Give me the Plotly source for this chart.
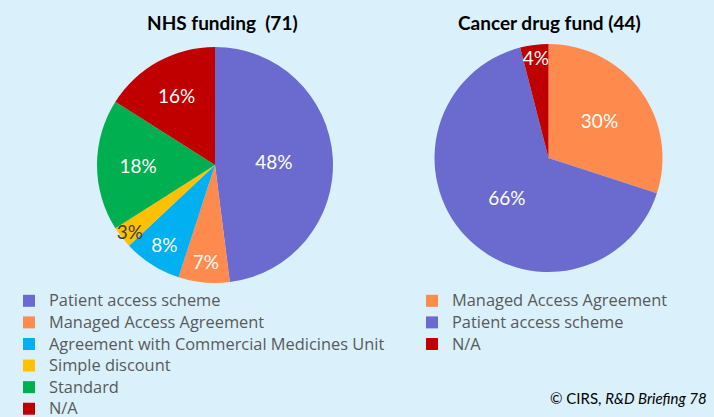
import plotly.graph_objects as go

nhs_labels = ["Patient access scheme", "Managed Access Agreement",
              "Agreement with Commercial Medicines Unit", "Simple discount",
              "Standard", "N/A"]
nhs_values = [48, 7, 8, 3, 18, 16]
nhs_colors = ["#6B6BCF", "#FF8A4D", "#00B0F0", "#FFC000", "#00B050", "#C00000"]
nhs_text_colors = ["white", "white", "white", "#404040", "white", "white"]

cdf_labels = ["Managed Access Agreement", "Patient access scheme", "N/A"]
cdf_values = [30, 66, 4]
cdf_colors = ["#FF8A4D", "#6B6BCF", "#C00000"]
cdf_text_colors = ["white", "white", "white"]

titles = ["NHS funding  (71)", "Cancer drug fund (44)"]
source = "© CIRS, <i>R&D Briefing 78</i>"

W, H = 714, 417
FONT = "Lato"
LFONT = "Open Sans"

# legend text drawn a bit larger than the legend row height implies
left_disp = ['<span style="font-size:16.4px">%s</span>' % l for l in nhs_labels]
right_disp = ['<span style="font-size:16.4px;color:#595959">%s</span>' % l
              for l in cdf_labels]

fig = go.Figure()
fig.add_trace(go.Pie(
    labels=left_disp, values=nhs_values, sort=False, direction="clockwise",
    rotation=0, marker=dict(colors=nhs_colors, line=dict(width=0)),
    texttemplate="%{value}%", textposition="inside",
    insidetextorientation="horizontal",
    textfont=dict(size=19, color=nhs_text_colors, family=FONT),
    domain=dict(x=[97 / W, 333 / W], y=[1 - 283 / H, 1 - 47 / H]),
    legend="legend", hoverinfo="label+percent",
))
fig.add_trace(go.Pie(
    labels=right_disp, values=cdf_values, sort=False, direction="clockwise",
    rotation=0, marker=dict(colors=cdf_colors, line=dict(width=0)),
    texttemplate="%{value}%", textposition="inside",
    insidetextorientation="horizontal",
    textfont=dict(size=19, color=cdf_text_colors, family=FONT),
    domain=dict(x=[434 / W, 663 / W], y=[1 - 272 / H, 1 - 44 / H]),
    legend="legend2", hoverinfo="label+percent",
))

legend_font = dict(size=14.3, color="#595959", family=LFONT)
fig.update_layout(
    width=W, height=H,
    margin=dict(l=0, r=0, t=0, b=0, autoexpand=False),
    paper_bgcolor="#DAF1FC", plot_bgcolor="#DAF1FC",
    font=dict(family=FONT),
    uniformtext=dict(minsize=19, mode="show"),
    legend=dict(x=9 / W, y=1 - 285 / H, xanchor="left", yanchor="top",
                font=legend_font, bgcolor="rgba(0,0,0,0)", itemwidth=30,
                tracegroupgap=0),
    legend2=dict(x=412 / W, y=1 - 285 / H, xanchor="left", yanchor="top",
                 font=legend_font, bgcolor="rgba(0,0,0,0)", itemwidth=30,
                 tracegroupgap=0),
    annotations=[
        dict(text="<b>" + titles[0] + "</b>", x=222 / W, y=1 - 22 / H,
             xref="paper", yref="paper", xanchor="center", yanchor="middle",
             showarrow=False,
             font=dict(size=19, color="black", family=FONT)),
        dict(text="<b>" + titles[1] + "</b>", x=549 / W, y=1 - 22 / H,
             xref="paper", yref="paper", xanchor="center", yanchor="middle",
             showarrow=False,
             font=dict(size=19, color="black", family=FONT)),
        dict(text=source, x=709 / W, y=1 - 398 / H, xref="paper", yref="paper",
             xanchor="right", yanchor="middle", showarrow=False,
             font=dict(size=15, color="black", family=FONT)),
    ],
)

fig.write_html("out.html", config={"displayModeBar": False},
               post_script="document.body.style.margin='0';")
